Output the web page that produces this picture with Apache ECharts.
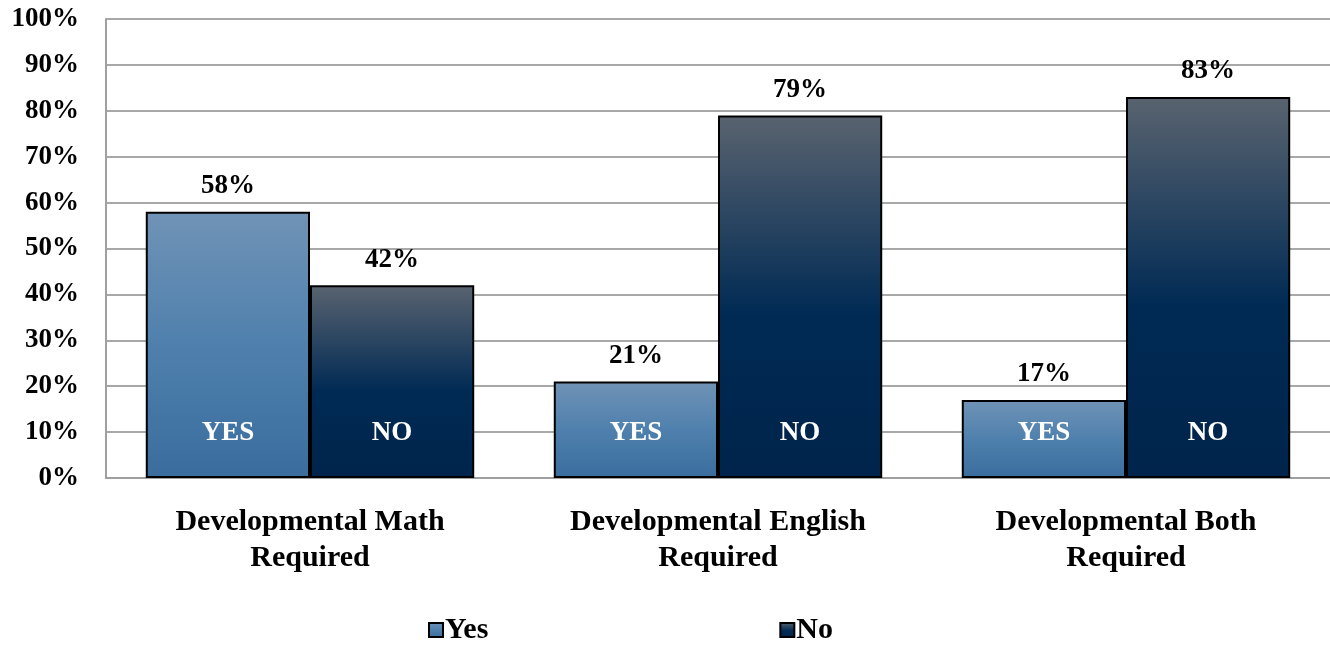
<!DOCTYPE html>
<html><head><meta charset="utf-8">
<script src="https://cdn.jsdelivr.net/npm/echarts@6/dist/echarts.min.js"></script>
<style>html,body{margin:0;padding:0;background:#fff}#c{width:1330px;height:646px}</style>
</head><body><div id="c"></div>
<script>
const categories = ['Developmental Math\nRequired', 'Developmental English\nRequired', 'Developmental Both\nRequired'];
const yesValues = [58, 21, 17];
const noValues = [42, 79, 83];
const yTicks = [0, 10, 20, 30, 40, 50, 60, 70, 80, 90, 100];

const FONT = '"Liberation Serif", "DejaVu Serif", serif';
const yesGrad = new echarts.graphic.LinearGradient(0, 0, 0, 1, [
  {offset: 0, color: '#7093b6'}, {offset: 0.5, color: '#4f80ad'}, {offset: 1, color: '#3a6d9e'}]);
const noGrad = new echarts.graphic.LinearGradient(0, 0, 0, 1, [
  {offset: 0, color: '#59636f'}, {offset: 0.55, color: '#002a54'}, {offset: 1, color: '#00244b'}]);

const txt = (size, color) => ({fontFamily: FONT, fontWeight: 'bold', fontSize: size, color: color});

const chart = echarts.init(document.getElementById('c'));
chart.setOption({
  animation: false,
  grid: {left: 106, width: 1229, top: 19, bottom: 168},
  legend: {
    bottom: -4, left: 423, itemGap: 291, itemWidth: 14, itemHeight: 14,
    data: ['Yes', 'No'],
    textStyle: Object.assign(txt(30, '#000'), {padding: [12, 0, 0, -3]}),
    icon: 'rect'
  },
  xAxis: [{
    type: 'category', data: categories,
    axisLine: {show: true, lineStyle: {color: '#a0a0a0', width: 2}},
    axisTick: {show: false},
    axisLabel: Object.assign(txt(30, '#000'), {lineHeight: 36, margin: 26})
  }, {
    type: 'category', data: categories, show: false
  }],
  yAxis: {
    type: 'value', min: 0, max: 100, interval: 10,
    axisLine: {show: true, lineStyle: {color: '#a0a0a0', width: 2}},
    axisTick: {show: false},
    splitLine: {lineStyle: {color: '#a8a8a8', width: 2}},
    axisLabel: Object.assign(txt(27, '#000'), {margin: 27,
      formatter: v => yTicks.includes(v) ? v + '%' : ''})
  },
  series: [
    {name: 'Yes', type: 'bar', data: yesValues, barGap: '0%', barCategoryGap: '19.5%',
      itemStyle: {color: yesGrad, borderColor: '#000', borderWidth: 2},
      label: Object.assign(txt(27, '#000'), {show: true, position: 'top', distance: 12, formatter: '{c}%'})},
    {name: 'No', type: 'bar', data: noValues, barGap: '0%', barCategoryGap: '19.5%',
      itemStyle: {color: noGrad, borderColor: '#000', borderWidth: 2},
      label: Object.assign(txt(27, '#000'), {show: true, position: 'top', distance: 12, formatter: '{c}%'})},
    {name: 'yesTag', type: 'bar', data: yesValues, xAxisIndex: 1, barGap: '0%', barCategoryGap: '19.5%',
      itemStyle: {color: 'rgba(0,0,0,0)'}, silent: true, z: 5,
      label: Object.assign(txt(27, '#fff'), {show: true, position: 'insideBottom', distance: 31, formatter: 'YES'})},
    {name: 'noTag', type: 'bar', data: noValues, xAxisIndex: 1, barGap: '0%', barCategoryGap: '19.5%',
      itemStyle: {color: 'rgba(0,0,0,0)'}, silent: true, z: 5,
      label: Object.assign(txt(27, '#fff'), {show: true, position: 'insideBottom', distance: 31, formatter: 'NO'})}
  ]
});
</script></body></html>
